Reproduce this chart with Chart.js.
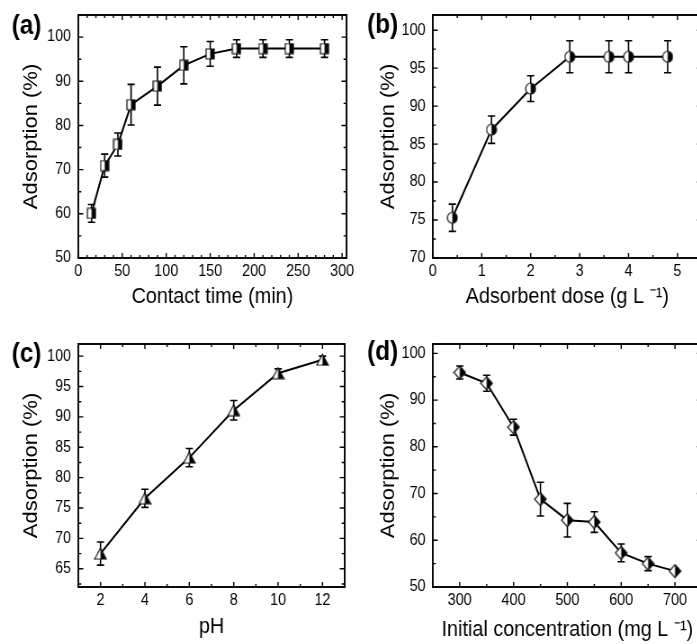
<!DOCTYPE html>
<html>
<head>
<meta charset="utf-8">
<script src="https://cdn.jsdelivr.net/npm/chart.js@4.4.0/dist/chart.umd.min.js"></script>
<style>
  html, body { margin: 0; padding: 0; background: #fff; overflow: hidden; width: 697px; height: 644px; }
  .panel { position: absolute; transform: scaleX(0.9); transform-origin: 0 0; }
</style>
</head>
<body>
<div class="panel" style="left:0px;top:0px;"><canvas id="ca" width="400" height="322"></canvas></div>
<div class="panel" style="left:350px;top:0px;"><canvas id="cb" width="400" height="322"></canvas></div>
<div class="panel" style="left:0px;top:322px;"><canvas id="cc" width="400" height="322"></canvas></div>
<div class="panel" style="left:350px;top:322px;"><canvas id="cd" width="400" height="322"></canvas></div>
<script>
// ---------- DATA ----------
// (a) contact time
const timeMin = [15, 30, 45, 60, 90, 120, 150, 180, 210, 240, 280];
const adsTime = [60.1, 70.9, 75.7, 84.7, 88.9, 93.6, 96.2, 97.4, 97.4, 97.4, 97.4];
const errTime = [2.0, 2.6, 2.6, 4.6, 4.3, 4.2, 2.8, 2.0, 2.0, 2.0, 2.0];
const timeTicks = [0, 50, 100, 150, 200, 250, 300];
const adsTicksA = [50, 60, 70, 80, 90, 100];

// (b) adsorbent dose
const doseGL = [0.4, 1.2, 2.0, 2.8, 3.6, 4.0, 4.8];
const adsDose = [75.3, 86.9, 92.3, 96.5, 96.5, 96.5, 96.5];
const errDose = [1.8, 1.8, 1.7, 2.1, 2.1, 2.1, 2.1];
const doseTicks = [0, 1, 2, 3, 4, 5];
const adsTicksB = [70, 75, 80, 85, 90, 95, 100];

// (c) pH
const phVals = [2, 4, 6, 8, 10, 12];
const adsPH = [67.5, 76.6, 83.3, 91.1, 97.2, 99.4];
const errPH = [1.9, 1.5, 1.5, 1.6, 0.7, 0.6];
const phTicks = [2, 4, 6, 8, 10, 12];
const adsTicksC = [65, 70, 75, 80, 85, 90, 95, 100];

// (d) initial concentration
const concMgL = [300, 350, 400, 450, 500, 550, 600, 650, 700];
const adsConc = [95.9, 93.6, 84.2, 68.8, 64.3, 63.9, 57.3, 55.0, 53.4];
const errConc = [1.4, 1.7, 1.7, 3.6, 3.6, 2.2, 1.9, 1.5, 0.4];
const concTicks = [300, 400, 500, 600, 700];
const adsTicksD = [50, 60, 70, 80, 90, 100];

// ---------- MARKERS (half open / half filled) ----------
function marker(shape) {
  const c = document.createElement('canvas');
  const dims = { square: [11, 12], circle: [13, 13], triangle: [15, 13], diamond: [15, 15] };
  const w = dims[shape][0], h = dims[shape][1];
  c.width = w; c.height = h;
  const g = c.getContext('2d');
  g.beginPath();
  if (shape === 'square') {
    g.rect(1, 1, w - 2, h - 2);
  } else if (shape === 'circle') {
    g.arc(w / 2, h / 2, w / 2 - 1, 0, Math.PI * 2);
  } else if (shape === 'triangle') {
    g.moveTo(w / 2, 1); g.lineTo(w - 1, h - 1); g.lineTo(1, h - 1); g.closePath();
  } else {
    g.moveTo(w / 2, 1); g.lineTo(w - 1, h / 2); g.lineTo(w / 2, h - 1); g.lineTo(1, h / 2); g.closePath();
  }
  g.fillStyle = '#fff'; g.fill();
  g.save(); g.clip();
  g.fillStyle = '#000'; g.fillRect(w / 2, 0, w / 2, h);
  g.restore();
  g.strokeStyle = '#111'; g.lineWidth = 1.2; g.stroke();
  return c;
}

// ---------- PLUGIN: frame, inward ticks, error bars, panel label ----------
const framePlugin = {
  id: 'frame',
  beforeDatasetsDraw(chart, args, o) {
    const ctx = chart.ctx, ys = chart.scales.y;
    const meta = chart.getDatasetMeta(0);
    const vals = chart.data.datasets[0].data;
    ctx.save();
    ctx.strokeStyle = '#000'; ctx.lineWidth = 1.6;
    meta.data.forEach((pt, i) => {
      const e = o.err[i]; if (!e) return;
      const v = vals[i].y;
      const y1 = ys.getPixelForValue(v + e), y2 = ys.getPixelForValue(v - e);
      ctx.beginPath();
      ctx.moveTo(pt.x, y1); ctx.lineTo(pt.x, y2);
      ctx.moveTo(pt.x - 4, y1); ctx.lineTo(pt.x + 4, y1);
      ctx.moveTo(pt.x - 4, y2); ctx.lineTo(pt.x + 4, y2);
      ctx.stroke();
    });
    ctx.restore();
  },
  afterDraw(chart, args, o) {
    const ctx = chart.ctx, a = chart.chartArea;
    const xs = chart.scales.x, ys = chart.scales.y;
    ctx.save();
    ctx.strokeStyle = '#000';
    ctx.lineWidth = 1.4;
    const drawX = (v, len) => {
      const px = xs.getPixelForValue(v);
      ctx.beginPath();
      ctx.moveTo(px, a.bottom); ctx.lineTo(px, a.bottom - len);
      ctx.moveTo(px, a.top); ctx.lineTo(px, a.top + len);
      ctx.stroke();
    };
    const drawY = (v, len) => {
      const py = ys.getPixelForValue(v);
      ctx.beginPath();
      ctx.moveTo(a.left, py); ctx.lineTo(a.left + len * 1.1, py);
      ctx.moveTo(a.right, py); ctx.lineTo(a.right - len * 1.1, py);
      ctx.stroke();
    };
    const majX = xs.ticks.map(t => t.value), majY = ys.ticks.map(t => t.value);
    const eps = 1e-6;
    for (let k = Math.ceil(xs.min / o.xMinor - eps); k * o.xMinor <= xs.max + eps; k++) {
      const v = k * o.xMinor;
      const isMaj = majX.some(m => Math.abs(m - v) < 1e-4);
      drawX(v, isMaj ? 5 : 3);
    }
    for (let k = Math.ceil(ys.min / o.yMinor - eps); k * o.yMinor <= ys.max + eps; k++) {
      const v = k * o.yMinor;
      const isMaj = majY.some(m => Math.abs(m - v) < 1e-4);
      drawY(v, isMaj ? 5 : 3);
    }
    ctx.lineWidth = 1.9;
    ctx.strokeRect(a.left, a.top, a.right - a.left, a.bottom - a.top);
    ctx.fillStyle = '#000';
    ctx.font = 'bold 27px "Liberation Sans", Arial, sans-serif';
    ctx.textBaseline = 'middle';
    ctx.textAlign = 'left';
    ctx.fillText(o.label, o.lx, o.ly);
    ctx.restore();
  }
};

const FONT = '"Liberation Sans", Arial, sans-serif';

function makeChart(id, cfg) {
  const W = 400, H = 322;
  const xt = cfg.xTicks, yt = cfg.yTicks;
  return new Chart(document.getElementById(id), {
    type: 'line',
    data: {
      datasets: [{
        data: cfg.xs.map((x, i) => ({ x: x, y: cfg.ys[i] })),
        borderColor: '#000',
        borderWidth: 2,
        pointStyle: marker(cfg.shape),
        pointRadius: 6,
        pointHoverRadius: 6,
        fill: false,
        tension: 0
      }]
    },
    options: {
      responsive: false,
      animation: false,
      devicePixelRatio: 1,
      layout: { padding: { left: 0, top: cfg.area.top, right: W - cfg.area.right, bottom: 0 } },
      plugins: {
        legend: { display: false },
        tooltip: { enabled: false },
        frame: { err: cfg.err, xMinor: cfg.xMinor, yMinor: cfg.yMinor, label: cfg.label, lx: cfg.lx, ly: cfg.ly }
      },
      scales: {
        x: {
          type: 'linear', min: cfg.xMin, max: cfg.xMax,
          afterBuildTicks: s => { s.ticks = xt.map(v => ({ value: v })); },
          afterFit: s => { s.height = H - cfg.area.bottom; s.paddingLeft = 0; s.paddingRight = 0; },
          grid: { display: false, drawTicks: false },
          border: { display: false },
          ticks: { color: '#000', font: { family: FONT, size: 16 }, padding: 4, maxRotation: 0, autoSkip: false },
          title: { display: true, text: cfg.xTitle, color: '#000', font: { family: FONT, size: 22 }, padding: { top: 0, bottom: cfg.xtPad } }
        },
        y: {
          type: 'linear', min: cfg.yMin, max: cfg.yMax,
          afterBuildTicks: s => { s.ticks = yt.map(v => ({ value: v })); },
          afterFit: s => { s.width = cfg.area.left; s.paddingTop = 0; s.paddingBottom = 0; },
          grid: { display: false, drawTicks: false },
          border: { display: false },
          ticks: { color: '#000', font: { family: FONT, size: 16 }, padding: 8, autoSkip: false },
          title: { display: true, text: 'Adsorption (%)', color: '#000', font: { family: FONT, size: 22 }, padding: { top: cfg.ytPad, bottom: 0 } }
        }
      }
    },
    plugins: [framePlugin]
  });
}

makeChart('ca', {
  xs: timeMin, ys: adsTime, err: errTime, xTicks: timeTicks, yTicks: adsTicksA,
  xMin: 0, xMax: 305, yMin: 50, yMax: 105, xMinor: 10, yMinor: 5,
  area: { left: 87, right: 385, top: 15, bottom: 258 },
  xTitle: 'Contact time (min)', xtPad: 12, ytPad: 22,
  shape: 'square', label: '(a)', lx: 13, ly: 27
});
makeChart('cb', {
  xs: doseGL, ys: adsDose, err: errDose, xTicks: doseTicks, yTicks: adsTicksB,
  xMin: 0, xMax: 5.5, yMin: 70, yMax: 102, xMinor: 0.5, yMinor: 2.5,
  area: { left: 92, right: 391, top: 15, bottom: 258 },
  xTitle: 'Adsorbent dose (g L \u207B\u00B9)', xtPad: 12, ytPad: 30,
  shape: 'circle', label: '(b)', lx: 19, ly: 26
});
makeChart('cc', {
  xs: phVals, ys: adsPH, err: errPH, xTicks: phTicks, yTicks: adsTicksC,
  xMin: 1, xMax: 13, yMin: 62, yMax: 102, xMinor: 1, yMinor: 2.5,
  area: { left: 87, right: 383, top: 22, bottom: 265 },
  xTitle: 'pH', xtPad: 4, ytPad: 22,
  shape: 'triangle', label: '(c)', lx: 13, ly: 33
});
makeChart('cd', {
  xs: concMgL, ys: adsConc, err: errConc, xTicks: concTicks, yTicks: adsTicksD,
  xMin: 250, xMax: 750, yMin: 50, yMax: 102, xMinor: 50, yMinor: 5,
  area: { left: 92, right: 391, top: 22, bottom: 265 },
  xTitle: 'Initial concentration (mg L \u207B\u00B9)', xtPad: 1, ytPad: 30,
  shape: 'diamond', label: '(d)', lx: 19, ly: 31
});
</script>
</body>
</html>
